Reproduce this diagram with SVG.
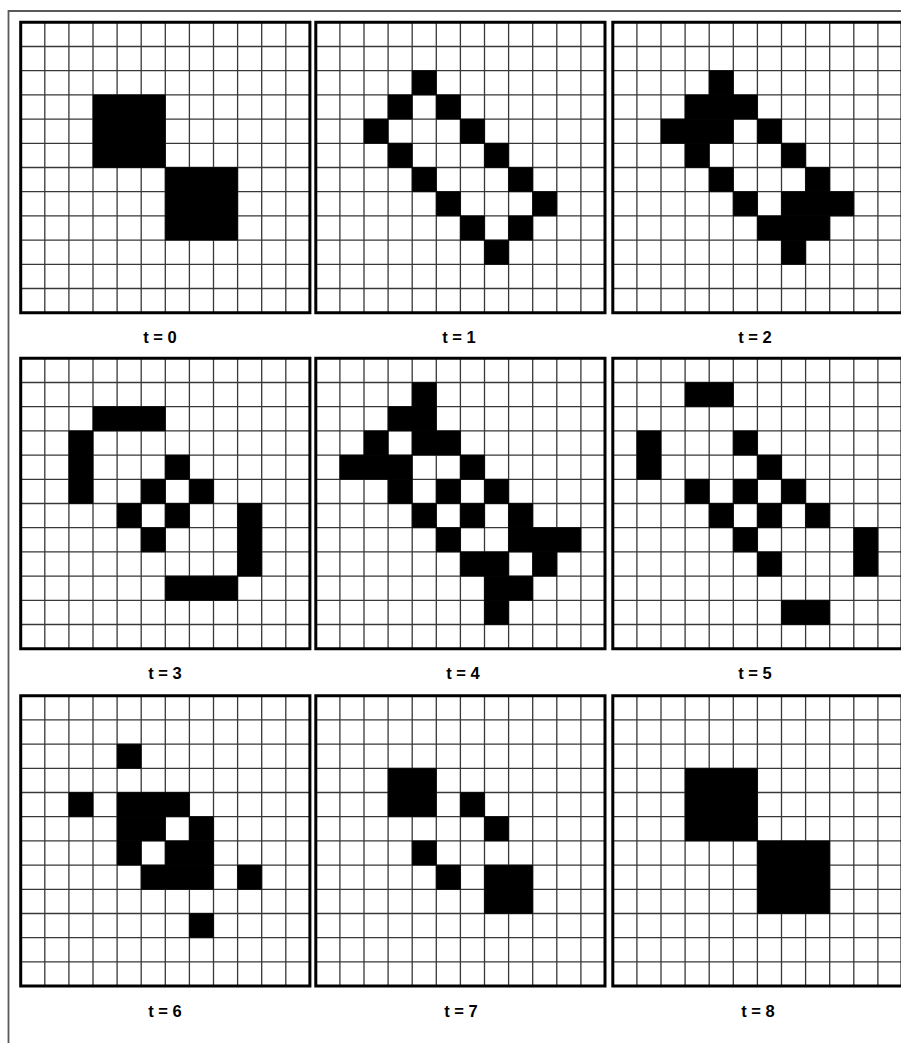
<svg xmlns="http://www.w3.org/2000/svg" xmlns:xlink="http://www.w3.org/1999/xlink" width="901" height="1043" viewBox="0 0 901 1043">
<style>
.gl{fill:none;stroke:#383838;stroke-width:1.3;vector-effect:non-scaling-stroke}
.bg{fill:#fff}
.on rect{fill:#000;stroke:#000;stroke-width:0.6;vector-effect:non-scaling-stroke}
.bd{fill:none;stroke:#000;stroke-width:3;vector-effect:non-scaling-stroke}
.frame{fill:none;stroke:#5a5a5a;stroke-width:1.8}
.lbl{font-family:"Liberation Sans",Arial,sans-serif;font-size:16.5px;font-weight:bold;fill:#000;text-anchor:middle}
</style>
<defs>
<g id="grid">
<rect class="bg" width="12" height="12"/>
<path class="gl" d="M1 0V12M2 0V12M3 0V12M4 0V12M5 0V12M6 0V12M7 0V12M8 0V12M9 0V12M10 0V12M11 0V12M0 1H12M0 2H12M0 3H12M0 4H12M0 5H12M0 6H12M0 7H12M0 8H12M0 9H12M0 10H12M0 11H12"/>
</g>
<rect id="border" class="bd" width="12" height="12"/>
</defs>
<rect width="901" height="1043" fill="#fff"/>
<path class="frame" d="M8.5 1043V11H901"/>

<g id="panel-t0" transform="translate(20.7,22.3) scale(24.1,24.2)">
<use href="#grid"/>
<g class="on"><rect x="3" y="3" width="3" height="3"/><rect x="6" y="6" width="3" height="3"/></g>
<use href="#border"/>
</g>

<g id="panel-t1" transform="translate(315.8,22.3) scale(24.1,24.2)">
<use href="#grid"/>
<g class="on">
<rect x="4" y="2" width="1" height="1"/>
<rect x="3" y="3" width="1" height="1"/><rect x="5" y="3" width="1" height="1"/>
<rect x="2" y="4" width="1" height="1"/><rect x="6" y="4" width="1" height="1"/>
<rect x="3" y="5" width="1" height="1"/><rect x="7" y="5" width="1" height="1"/>
<rect x="4" y="6" width="1" height="1"/><rect x="8" y="6" width="1" height="1"/>
<rect x="5" y="7" width="1" height="1"/><rect x="9" y="7" width="1" height="1"/>
<rect x="6" y="8" width="1" height="1"/><rect x="8" y="8" width="1" height="1"/>
<rect x="7" y="9" width="1" height="1"/>
</g>
<use href="#border"/>
</g>

<g id="panel-t2" transform="translate(612.8,22.3) scale(24.1,24.2)">
<use href="#grid"/>
<g class="on">
<rect x="4" y="2" width="1" height="1"/>
<rect x="3" y="3" width="3" height="1"/>
<rect x="2" y="4" width="3" height="1"/><rect x="6" y="4" width="1" height="1"/>
<rect x="3" y="5" width="1" height="1"/><rect x="7" y="5" width="1" height="1"/>
<rect x="4" y="6" width="1" height="1"/><rect x="8" y="6" width="1" height="1"/>
<rect x="5" y="7" width="1" height="1"/><rect x="7" y="7" width="3" height="1"/>
<rect x="6" y="8" width="3" height="1"/>
<rect x="7" y="9" width="1" height="1"/>
</g>
<use href="#border"/>
</g>

<g id="panel-t3" transform="translate(20.7,358.3) scale(24.1,24.2)">
<use href="#grid"/>
<g class="on">
<rect x="3" y="2" width="3" height="1"/>
<rect x="2" y="3" width="1" height="3"/>
<rect x="6" y="4" width="1" height="1"/>
<rect x="5" y="5" width="1" height="1"/><rect x="7" y="5" width="1" height="1"/>
<rect x="4" y="6" width="1" height="1"/><rect x="6" y="6" width="1" height="1"/>
<rect x="9" y="6" width="1" height="3"/>
<rect x="5" y="7" width="1" height="1"/>
<rect x="6" y="9" width="3" height="1"/>
</g>
<use href="#border"/>
</g>

<g id="panel-t4" transform="translate(315.8,358.3) scale(24.1,24.2)">
<use href="#grid"/>
<g class="on">
<rect x="4" y="1" width="1" height="1"/>
<rect x="3" y="2" width="2" height="1"/>
<rect x="2" y="3" width="1" height="1"/><rect x="4" y="3" width="2" height="1"/>
<rect x="1" y="4" width="3" height="1"/><rect x="6" y="4" width="1" height="1"/>
<rect x="3" y="5" width="1" height="1"/><rect x="5" y="5" width="1" height="1"/><rect x="7" y="5" width="1" height="1"/>
<rect x="4" y="6" width="1" height="1"/><rect x="6" y="6" width="1" height="1"/><rect x="8" y="6" width="1" height="1"/>
<rect x="5" y="7" width="1" height="1"/><rect x="8" y="7" width="3" height="1"/>
<rect x="6" y="8" width="2" height="1"/><rect x="9" y="8" width="1" height="1"/>
<rect x="7" y="9" width="2" height="1"/>
<rect x="7" y="10" width="1" height="1"/>
</g>
<use href="#border"/>
</g>

<g id="panel-t5" transform="translate(612.8,358.3) scale(24.1,24.2)">
<use href="#grid"/>
<g class="on">
<rect x="3" y="1" width="2" height="1"/>
<rect x="1" y="3" width="1" height="2"/>
<rect x="5" y="3" width="1" height="1"/>
<rect x="6" y="4" width="1" height="1"/>
<rect x="3" y="5" width="1" height="1"/><rect x="5" y="5" width="1" height="1"/><rect x="7" y="5" width="1" height="1"/>
<rect x="4" y="6" width="1" height="1"/><rect x="6" y="6" width="1" height="1"/><rect x="8" y="6" width="1" height="1"/>
<rect x="5" y="7" width="1" height="1"/>
<rect x="10" y="7" width="1" height="2"/>
<rect x="6" y="8" width="1" height="1"/>
<rect x="7" y="10" width="2" height="1"/>
</g>
<use href="#border"/>
</g>

<g id="panel-t6" transform="translate(20.7,695.7) scale(24.1,24.2)">
<use href="#grid"/>
<g class="on">
<rect x="4" y="2" width="1" height="1"/>
<rect x="2" y="4" width="1" height="1"/><rect x="4" y="4" width="3" height="1"/>
<rect x="4" y="5" width="2" height="1"/><rect x="7" y="5" width="1" height="1"/>
<rect x="4" y="6" width="1" height="1"/><rect x="6" y="6" width="2" height="1"/>
<rect x="5" y="7" width="3" height="1"/><rect x="9" y="7" width="1" height="1"/>
<rect x="7" y="9" width="1" height="1"/>
</g>
<use href="#border"/>
</g>

<g id="panel-t7" transform="translate(315.8,695.7) scale(24.1,24.2)">
<use href="#grid"/>
<g class="on">
<rect x="3" y="3" width="2" height="2"/>
<rect x="6" y="4" width="1" height="1"/>
<rect x="7" y="5" width="1" height="1"/>
<rect x="4" y="6" width="1" height="1"/>
<rect x="5" y="7" width="1" height="1"/>
<rect x="7" y="7" width="2" height="2"/>
</g>
<use href="#border"/>
</g>

<g id="panel-t8" transform="translate(612.8,695.7) scale(24.1,24.2)">
<use href="#grid"/>
<g class="on"><rect x="3" y="3" width="3" height="3"/><rect x="6" y="6" width="3" height="3"/></g>
<use href="#border"/>
</g>

<g id="labels">
<text class="lbl" x="160" y="342.5">t = 0</text>
<text class="lbl" x="459" y="342.5">t = 1</text>
<text class="lbl" x="755" y="342.5">t = 2</text>
<text class="lbl" x="165" y="678.5">t = 3</text>
<text class="lbl" x="463" y="678.5">t = 4</text>
<text class="lbl" x="755" y="678.5">t = 5</text>
<text class="lbl" x="165" y="1017">t = 6</text>
<text class="lbl" x="461" y="1017">t = 7</text>
<text class="lbl" x="758" y="1017">t = 8</text>
</g>
</svg>
